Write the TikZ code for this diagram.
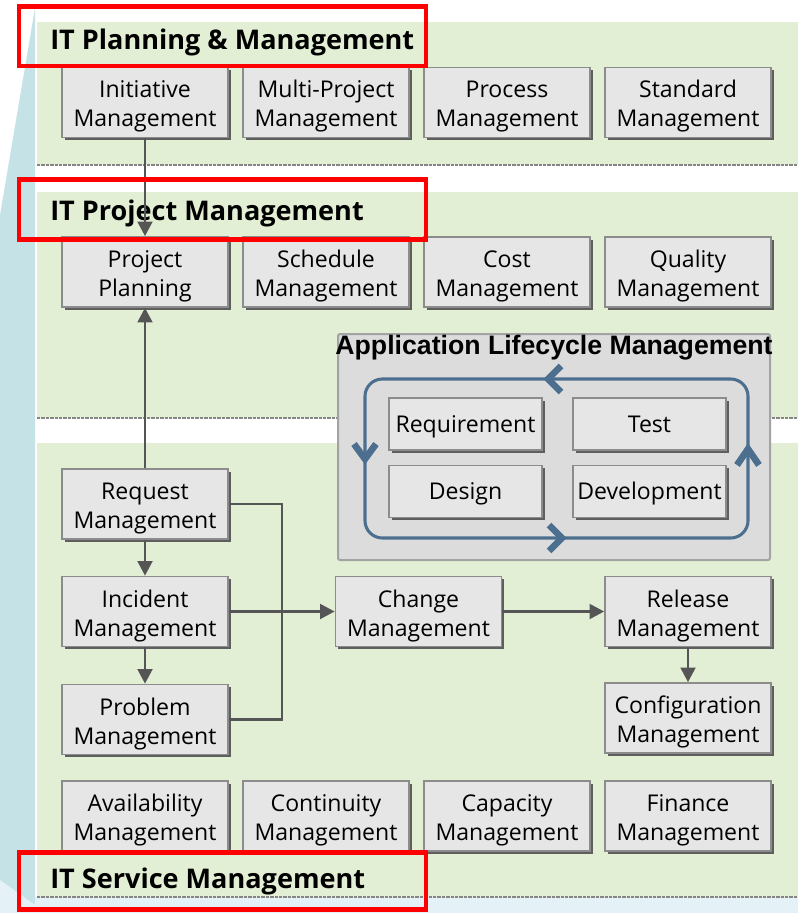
\documentclass[tikz,border=0pt]{standalone}
\usepackage{fontspec}
\usetikzlibrary{arrows.meta,shadows}
\newfontfamily\boxfont{Open Sans}
\newfontfamily\almfont{Liberation Sans}
\definecolor{panelgreen}{HTML}{E3EFD5}
\definecolor{stripblue}{HTML}{C5E3E7}
\definecolor{palestrip}{HTML}{E4F2F8}
\definecolor{boxfill}{HTML}{E6E6E6}
\definecolor{boxborder}{HTML}{8C8C8C}
\definecolor{shadowgray}{HTML}{5E5E5E}
\definecolor{almfill}{HTML}{DCDCDC}
\definecolor{almborder}{HTML}{A3A3A3}
\definecolor{loopblue}{HTML}{4C6F90}
\definecolor{conngray}{HTML}{555555}
\definecolor{dotgray}{HTML}{858585}
\begin{document}
\begin{tikzpicture}[x=0.75pt,y=-0.75pt,
  panel/.style={fill=panelgreen,draw=none},
  panelline/.style={draw=dotgray,line width=1.4pt,dash pattern=on 2.5pt off 0.8pt},
  box/.style={draw=boxborder,line width=1.2pt,fill=boxfill,minimum width=124.5pt,minimum height=52.5pt,
    inner sep=0pt,align=center,font=\boxfont\fontsize{17.3}{21.75}\selectfont,
    text height=36.75pt,text depth=0pt,
    drop shadow={shadow xshift=2.2pt,shadow yshift=-2.2pt,fill=shadowgray,opacity=1}},
  ibox/.style={box,minimum width=114.75pt,minimum height=39pt,text height=12pt,text depth=0pt},
  title/.style={anchor=base west,inner sep=0pt,font=\boxfont\bfseries\fontsize{20.3}{24}\selectfont},
  redbox/.style={draw=red,line width=3.5pt},
  conn/.style={draw=conngray,line width=2.2pt},
  arrow/.style={conn,-{Triangle[length=11pt,width=11pt]}},
  chev/.style={draw=loopblue,line width=5pt,line join=miter,miter limit=10}]
\useasboundingbox (0,0) rectangle (798,913);
% background
\fill[white] (0,0) rectangle (798,913);
\fill[stripblue] (0,215) -- (35,8) -- (35,913) -- (0,913) -- cycle;
\fill[palestrip] (0,880) -- (35,905) -- (35,913) -- (0,913) -- cycle;
\fill[palestrip] (35,897) rectangle (798,913);
% panels
\fill[panel] (37,22) rectangle (798,165);
\fill[panel] (37,192) rectangle (798,418);
\fill[panel] (37,443) rectangle (798,897);
\draw[panelline] (37,165) -- (798,165);
\draw[panelline] (37,418) -- (798,418);
\draw[panelline] (37,897) -- (798,897);
% titles
\node[title] (t1) at (50,50) {IT Planning \& Management};
\node[title] (t2) at (50,220) {IT Project Management};
\node[title] (t3) at (50,888) {IT Service Management};
% planning row
\node[box] (init) at (145,102.5) {Initiative\\Management};
\node[box] (mpm) at (326,102.5) {Multi-Project\\Management};
\node[box] (proc) at (507,102.5) {Process\\Management};
\node[box] (std) at (688,102.5) {Standard\\Management};
% project row
\node[box] (pp) at (145,272) {Project\\Planning};
\node[box] (sched) at (326,272) {Schedule\\Management};
\node[box] (cost) at (507,272) {Cost\\Management};
\node[box] (qual) at (688,272) {Quality\\Management};
% ALM
\node[draw=almborder,fill=almfill,line width=1.5pt,rounded corners=1.5pt,minimum width=324pt,minimum height=169.5pt,inner sep=0pt] (alm) at (554,447) {};
\node[font=\almfont\bfseries\fontsize{20}{24}\selectfont,inner sep=0pt] (almt) at (554,348) {Application Lifecycle Management};
\node[draw=loopblue,line width=2.3pt,rounded corners=13pt,minimum width=287.25pt,minimum height=119.25pt,inner sep=0pt] (loop) at (556.5,458.5) {};
\draw[chev] (561,366) -- (548,379) -- (561,392);
\draw[chev] (354,444) -- (365,459) -- (376,444);
\draw[chev] (737,465) -- (748,449) -- (759,465);
\draw[chev] (549,525) -- (562,538) -- (549,551);
\node[ibox] (reqm) at (465.5,424) {Requirement};
\node[ibox] (test) at (649.5,424) {Test};
\node[ibox] (des) at (465.5,491.5) {Design};
\node[ibox] (dev) at (649.5,491.5) {Development};
% service
\node[box] (req) at (145,504) {Request\\Management};
\node[box] (inc) at (145,611.5) {Incident\\Management};
\node[box] (prob) at (145,719.5) {Problem\\Management};
\node[box] (chg) at (418.5,611.5) {Change\\Management};
\node[box] (rel) at (688,611.5) {Release\\Management};
\node[box] (cfg) at (688,718) {Configuration\\Management};
\node[box] (avail) at (145,816) {Availability\\Management};
\node[box] (cont) at (326,816) {Continuity\\Management};
\node[box] (capm) at (507,816) {Capacity\\Management};
\node[box] (fin) at (688,816) {Finance\\Management};
% connectors
\coordinate (bus) at (282,611.5);
\draw[arrow] (init.south) -- (pp.north);
\draw[arrow] (req.north) -- (pp.south);
\draw[arrow] (req.south) -- (inc.north);
\draw[arrow] (inc.south) -- (prob.north);
\draw[conn] (req.east) -| (bus) |- (prob.east);
\draw[arrow] (inc.east) -- (chg.west);
\draw[arrow] (chg.east) -- (rel.west);
\draw[arrow] (rel.south) -- (cfg.north);
% red highlight boxes
\draw[redbox] (19,6.5) rectangle (426,66);
\draw[redbox] (19,179.5) rectangle (426,239.5);
\draw[redbox] (19,852.5) rectangle (426,909.5);
\end{tikzpicture}
\end{document}
